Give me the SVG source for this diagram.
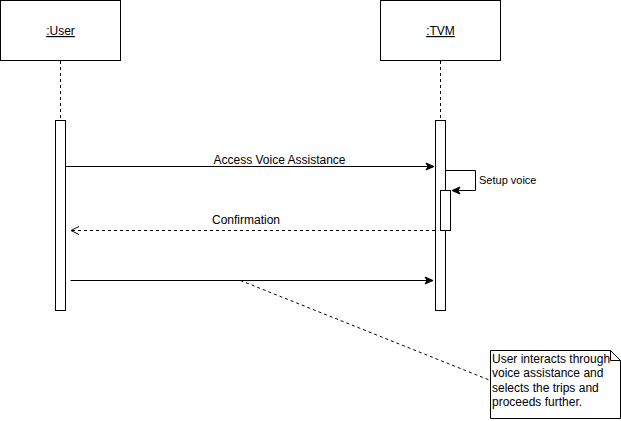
<svg xmlns="http://www.w3.org/2000/svg" width="621" height="421" viewBox="0 0 621 421">
<defs>
<style>
.box{fill:#fff;stroke:#000;stroke-width:1}
.life{stroke:#000;stroke-width:1;stroke-dasharray:3,3;fill:none}
.msg{stroke:#000;stroke-width:1;fill:none}
.dash{stroke:#000;stroke-width:1;fill:none;stroke-dasharray:3,3}
text{font-family:"Liberation Sans",Arial,sans-serif;font-size:12px;fill:#000}
.small{font-size:11px}
</style>
<marker id="filled" markerWidth="10" markerHeight="10" refX="9" refY="5" orient="auto" markerUnits="userSpaceOnUse">
<path d="M1,1.5 L9,5 L1,8.5 L3,5 Z" fill="#000" stroke="#000" stroke-width="1"/>
</marker>
<marker id="open" markerWidth="10" markerHeight="10" refX="9" refY="5" orient="auto" markerUnits="userSpaceOnUse">
<path d="M1,1 L9,5 L1,9" fill="none" stroke="#000" stroke-width="1"/>
</marker>
</defs>
<rect width="621" height="421" fill="#fff"/>
<g id="user">
<rect class="box" x="0.5" y="0.5" width="120" height="60"/>
<text x="60.5" y="35" text-anchor="middle" text-decoration="underline">:User</text>
<line class="life" x1="60.5" y1="61" x2="60.5" y2="120"/>
<rect class="box" x="55.5" y="120.5" width="10" height="190"/>
</g>
<g id="tvm">
<rect class="box" x="380.5" y="0.5" width="120" height="60"/>
<text x="440.5" y="35" text-anchor="middle" text-decoration="underline">:TVM</text>
<line class="life" x1="440.5" y1="61" x2="440.5" y2="120"/>
<rect class="box" x="435.5" y="120.5" width="10" height="190"/>
<rect class="box" x="440.5" y="190.5" width="10" height="40"/>
</g>
<g id="note">
<path class="box" d="M490.5,350.5 H610.5 L620.5,360.5 V418.5 H490.5 Z"/>
<path class="msg" d="M610.5,350.5 V360.5 H620.5"/>
<text x="492" y="362.5">User interacts through</text>
<text x="492" y="377">voice assistance and</text>
<text x="492" y="391.5">selects the trips and</text>
<text x="492" y="406">proceeds further.</text>
</g>
<g id="connectors">
<line class="msg" x1="65.5" y1="166.5" x2="434" y2="166.5" marker-end="url(#filled)"/>
<text x="279.5" y="164" text-anchor="middle">Access Voice Assistance</text>
<path class="msg" d="M445.5,170.5 H475.5 V190.5 H452" marker-end="url(#filled)"/>
<text class="small" x="479" y="183.5">Setup voice</text>
<line class="dash" x1="435" y1="230.5" x2="71" y2="230.5" marker-end="url(#open)"/>
<text x="246" y="224" text-anchor="middle">Confirmation</text>
<line class="msg" x1="70.5" y1="280.5" x2="433" y2="280.5" marker-end="url(#filled)"/>
<line class="dash" x1="240.5" y1="280.5" x2="490.5" y2="380.5"/>
</g>
</svg>
